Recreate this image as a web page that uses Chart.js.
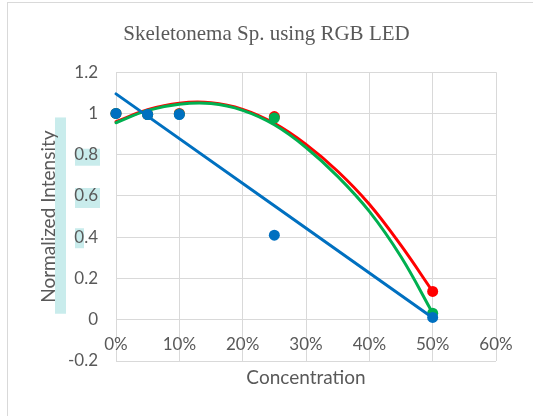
<!DOCTYPE html>
<html>
<head>
<meta charset="utf-8">
<script src="https://cdn.jsdelivr.net/npm/chart.js@4.4.1/dist/chart.umd.min.js"></script>
<style>
  html, body { margin: 0; padding: 0; background: #fff; }
  #wrap { width: 533px; height: 416px; }
</style>
</head>
<body>
<div id="wrap"><canvas id="chart"></canvas></div>
<script>
// measured points (concentration as fraction)
const blueX = [0, 0.05, 0.10, 0.25, 0.50];
const blueY = [1.0, 0.995, 0.995, 0.41, 0.011];
const redX = [0, 0.05, 0.10, 0.25, 0.50];
const redY = [1.0, 0.995, 1.0, 0.985, 0.137];
const greenX = [0, 0.05, 0.10, 0.25, 0.50];
const greenY = [1.0, 0.995, 0.997, 0.978, 0.032];

// trendlines
const blueTrendX = [0, 0.50];
const blueTrendY = [1.095, 0.01];
const curveX = [0, 0.05, 0.10, 0.15, 0.20, 0.25, 0.30, 0.35, 0.40, 0.45, 0.50];
const redTrendY = [0.96, 1.018, 1.05, 1.052, 1.02, 0.952, 0.85, 0.72, 0.56, 0.36, 0.137];
const greenTrendY = [0.955, 1.015, 1.045, 1.048, 1.015, 0.945, 0.835, 0.695, 0.525, 0.305, 0.032];

const xTickLabels = ['0%', '10%', '20%', '30%', '40%', '50%', '60%'];
const yTickLabels = ['-0.2', '0', '0.2', '0.4', '0.6', '0.8', '1', '1.2'];

const BLUE = '#0070C0';
const RED = '#FF0000';
const GREEN = '#00B050';
const TEXT = '#595959';
const GRID = '#d9d9d9';
const SANS = 'Lato, sans-serif';

const toXY = (xs, ys) => xs.map((x, i) => ({ x: x, y: ys[i] }));
const xTicks = scale => { scale.ticks = xTickLabels.map((_, i) => ({ value: i / 10 })); };

// frame + the cyan highlight marks seen behind the y labels
const decorPlugin = {
  id: 'decor',
  beforeDraw(chart) {
    const ctx = chart.ctx;
    const y = chart.scales.y;
    const left = chart.chartArea.left;
    ctx.save();
    ctx.strokeStyle = GRID;
    ctx.lineWidth = 1;
    ctx.strokeRect(7.5, 2.5, 600, 500);
    ctx.fillStyle = '#c9ecec';
    ctx.fillRect(55, y.getPixelForValue(1.0) + 4, 11, y.getPixelForValue(0) - y.getPixelForValue(1.0) - 10);
    ctx.fillRect(left - 41, y.getPixelForValue(0.8) - 6, 25, 17);
    ctx.fillRect(left - 41, y.getPixelForValue(0.6) - 8, 25, 20);
    ctx.fillRect(left - 41, y.getPixelForValue(0.4) - 9, 9, 20);
    ctx.restore();
  }
};

const pts = (color, xs, ys) => ({
  data: toXY(xs, ys),
  showLine: false,
  clip: false,
  pointRadius: 5.5,
  pointHoverRadius: 5.5,
  pointBackgroundColor: color,
  pointBorderColor: color,
  borderWidth: 0
});

const trend = (color, xs, ys) => ({
  data: toXY(xs, ys),
  showLine: true,
  clip: false,
  pointRadius: 0,
  borderColor: color,
  borderWidth: 3,
  borderCapStyle: 'round',
  tension: 0.4
});

new Chart(document.getElementById('chart'), {
  type: 'scatter',
  data: {
    datasets: [
      pts(BLUE, blueX, blueY),
      trend(BLUE, blueTrendX, blueTrendY),
      pts(GREEN, greenX, greenY),
      trend(GREEN, curveX, greenTrendY),
      pts(RED, redX, redY),
      trend(RED, curveX, redTrendY)
    ]
  },
  options: {
    responsive: true,
    maintainAspectRatio: false,
    animation: false,
    layout: { padding: 0 },
    plugins: {
      legend: { display: false },
      tooltip: { enabled: false },
      title: {
        display: true,
        text: 'Skeletonema Sp. using RGB LED',
        color: TEXT,
        font: { family: '"Liberation Serif", "DejaVu Serif", serif', size: 21, weight: 'normal' },
        padding: { top: 22, bottom: 25 }
      }
    },
    scales: {
      x: {
        type: 'linear',
        min: 0,
        max: 0.6,
        afterFit(scale) { scale.height = 55; },
        afterBuildTicks: xTicks,
        ticks: { display: false },
        grid: { color: GRID, lineWidth: 1, drawTicks: false },
        border: { display: false },
        title: {
          display: true,
          text: 'Concentration',
          color: TEXT,
          font: { family: SANS, size: 19 },
          padding: { top: 0, bottom: 27 }
        }
      },
      // tick labels sit next to the zero line, as in the original
      x2: {
        type: 'linear',
        position: { y: 0 },
        min: 0,
        max: 0.6,
        afterBuildTicks: xTicks,
        ticks: {
          color: TEXT,
          font: { family: SANS, size: 17 },
          padding: 15,
          maxRotation: 0,
          autoSkip: false,
          callback: (v, i) => xTickLabels[i]
        },
        grid: { display: false, drawTicks: false },
        border: { display: false }
      },
      y: {
        min: -0.2,
        max: 1.2,
        afterFit(scale) { scale.width = 116; },
        afterBuildTicks(scale) {
          scale.ticks = yTickLabels.map(t => ({ value: parseFloat(t) }));
        },
        ticks: {
          color: TEXT,
          font: { family: SANS, size: 17 },
          padding: 18,
          callback: (v, i) => yTickLabels[i]
        },
        grid: { color: GRID, lineWidth: 1, drawTicks: false },
        border: { display: false },
        title: {
          display: true,
          text: 'Normalized Intensity',
          color: TEXT,
          font: { family: SANS, size: 19 },
          padding: { top: 37, bottom: 0 }
        }
      },
      // empty right-hand strip so the title stays centred on the whole frame
      y2: {
        position: 'right',
        min: -0.2,
        max: 1.2,
        afterFit(scale) { scale.width = 37; },
        ticks: { display: false },
        grid: { display: false, drawTicks: false },
        border: { display: false }
      }
    }
  },
  plugins: [decorPlugin]
});
</script>
</body>
</html>
